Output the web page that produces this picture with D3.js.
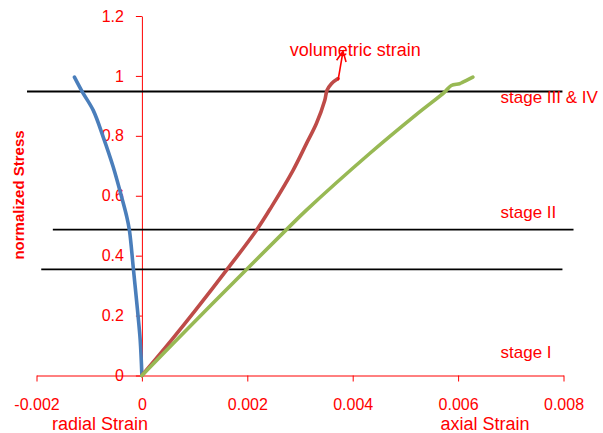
<!DOCTYPE html>
<html>
<head>
<meta charset="utf-8">
<script src="https://cdn.jsdelivr.net/npm/d3@7"></script>
<style>
  html, body { margin: 0; padding: 0; background: #fff; }
  svg { display: block; font-family: "Liberation Sans", Arial, sans-serif; }
</style>
</head>
<body>
<svg id="chart" width="603" height="433"></svg>
<script>
// ---- data ----
const xTicks = [-0.002, 0, 0.002, 0.004, 0.006, 0.008];
const xTickLabels = ["-0.002", "0", "0.002", "0.004", "0.006", "0.008"];
const yTicks = [0, 0.2, 0.4, 0.6, 0.8, 1, 1.2];
const yTickLabels = ["0", "0.2", "0.4", "0.6", "0.8", "1", "1.2"];

// radial strain (blue)
const radialStrain = [0, -0.0000322, -0.0000834, -0.000161, -0.000237, -0.000294, -0.000385, -0.000544, -0.000734, -0.000923, -0.001128, -0.00128];
const radialStress = [0, 0.118, 0.218, 0.355, 0.485, 0.535, 0.596, 0.696, 0.796, 0.885, 0.946, 0.996];

// volumetric strain (red)
const volStrain = [0, 0.000561, 0.001018, 0.001617, 0.002174, 0.002458, 0.002868, 0.003122, 0.003311, 0.003469, 0.003513, 0.003596, 0.003722];
const volStress = [0, 0.118, 0.218, 0.354, 0.485, 0.563, 0.685, 0.774, 0.841, 0.918, 0.952, 0.974, 0.991];

// axial strain (green)
const axialStrain = [0, 0.000593, 0.001985, 0.002743, 0.003122, 0.004322, 0.0052, 0.005744, 0.005871, 0.006028, 0.00609, 0.00628];
const axialStress = [0, 0.107, 0.354, 0.487, 0.552, 0.741, 0.870, 0.946, 0.968, 0.974, 0.979, 0.996];

// stage boundary lines
const stageLevels = [0.948, 0.487, 0.354];
const stageFrom = [-0.00218, -0.00169, -0.00191];
const stageTo = [0.00798, 0.00819, 0.00798];

// stage labels
const stageLabels = ["stage III & IV", "stage II", "stage I"];
const stageLabelX = [0.006806, 0.006806, 0.006806];
const stageLabelY = [0.909, 0.527, 0.057];

// volumetric annotation
const volLabel = "volumetric strain";
const volLabelPos = [0.002806, 1.068];
const arrowFrom = [0.003722, 0.985];
const arrowTo = [0.003816, 1.082];

// ---- drawing ----
const svg = d3.select("#chart");
const red = "#FF0000";
const x = d3.scaleLinear().domain([-0.002, 0.008]).range([36.5, 563.5]);
const y = d3.scaleLinear().domain([0, 1.2]).range([375.5, 16]);

// axes
const xAxis = d3.axisBottom(x).tickValues(xTicks)
  .tickFormat((d, i) => xTickLabels[i]).tickSize(6).tickSizeOuter(0).tickPadding(17);
const yAxis = d3.axisLeft(y).tickValues(yTicks)
  .tickFormat((d, i) => yTickLabels[i]).tickSize(6).tickSizeOuter(0).tickPadding(12);

const gx = svg.append("g").attr("transform", `translate(0,${y(0)})`).call(xAxis);
const gy = svg.append("g").attr("transform", `translate(${x(0)},0)`).call(yAxis);
[gx, gy].forEach(g => {
  g.select(".domain").attr("stroke", red).attr("stroke-width", 1);
  g.selectAll(".tick line").attr("stroke", red).attr("stroke-width", 1);
  g.selectAll(".tick text").attr("fill", red).style("font-size", "16px")
    .style("font-family", '"Liberation Sans", Arial, sans-serif');
});

// stage lines
svg.append("g").selectAll("line").data(stageLevels).join("line")
  .attr("x1", (d, i) => x(stageFrom[i]))
  .attr("x2", (d, i) => x(stageTo[i]))
  .attr("y1", d => y(d)).attr("y2", d => y(d))
  .attr("stroke", "#000").attr("stroke-width", 1.8);

// curves
const series = [
  { xs: radialStrain, ys: radialStress, color: "#4A7EBB" },
  { xs: volStrain, ys: volStress, color: "#BE4B48" },
  { xs: axialStrain, ys: axialStress, color: "#98B954" }
];
const line = d3.line().x(d => x(d[0])).y(d => y(d[1])).curve(d3.curveCatmullRom.alpha(0.5));
series.forEach(s => {
  svg.append("path")
    .datum(s.xs.map((v, i) => [v, s.ys[i]]))
    .attr("d", line)
    .attr("fill", "none")
    .attr("stroke", s.color)
    .attr("stroke-width", 3.6)
    .attr("stroke-linecap", "round")
    .attr("stroke-linejoin", "round");
});

// stage labels
svg.append("g").selectAll("text").data(stageLabels).join("text")
  .attr("x", (d, i) => x(stageLabelX[i]))
  .attr("y", (d, i) => y(stageLabelY[i]))
  .attr("fill", red).style("font-size", "17px")
  .text(d => d);

// volumetric annotation
svg.append("text")
  .attr("x", x(volLabelPos[0])).attr("y", y(volLabelPos[1]))
  .attr("fill", red).style("font-size", "18px")
  .text(volLabel);

const ax1 = x(arrowFrom[0]), ay1 = y(arrowFrom[1]);
const ax2 = x(arrowTo[0]), ay2 = y(arrowTo[1]);
const ang = Math.atan2(ay2 - ay1, ax2 - ax1);
const wing = 11, spread = 0.45;
svg.append("path")
  .attr("d", `M${ax1},${ay1}L${ax2},${ay2}` +
    `M${ax2 - wing * Math.cos(ang - spread)},${ay2 - wing * Math.sin(ang - spread)}L${ax2},${ay2}` +
    `L${ax2 - wing * Math.cos(ang + spread)},${ay2 - wing * Math.sin(ang + spread)}`)
  .attr("fill", "none").attr("stroke", red).attr("stroke-width", 1.6);

// axis titles
svg.append("text")
  .attr("x", 100).attr("y", 429.5).attr("text-anchor", "middle")
  .attr("fill", red).style("font-size", "18px").text("radial Strain");
svg.append("text")
  .attr("x", 485).attr("y", 429.5).attr("text-anchor", "middle")
  .attr("fill", red).style("font-size", "18px").text("axial Strain");
svg.append("text")
  .attr("transform", "translate(24,195) rotate(-90)")
  .attr("text-anchor", "middle")
  .attr("fill", red).style("font-size", "15px").style("font-weight", "bold")
  .text("normalized Stress");
</script>
</body>
</html>
